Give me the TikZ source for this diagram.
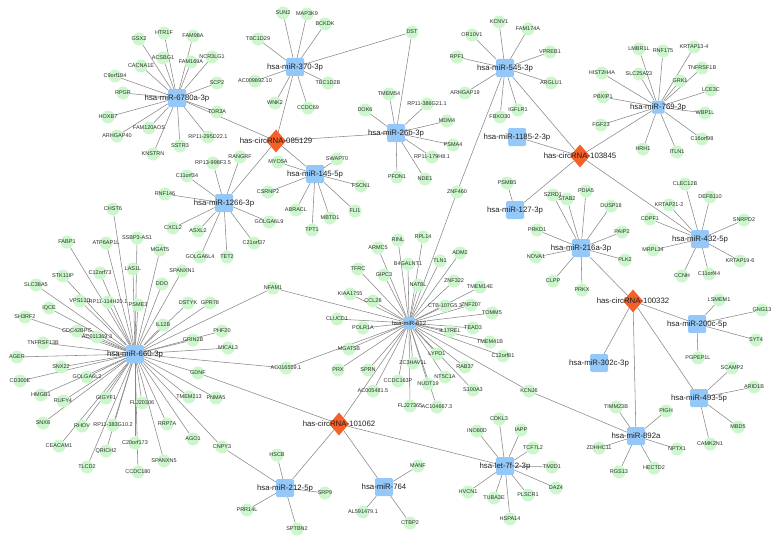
\documentclass[tikz,border=0pt]{standalone}
\usepackage{fontspec}
\setmainfont{Liberation Sans}
\usetikzlibrary{shapes.geometric}
\pgfdeclarelayer{bg}
\pgfsetlayers{bg,main}
\definecolor{gfill}{RGB}{204,247,204}
\definecolor{mfill}{RGB}{148,200,248}
\definecolor{cfill}{RGB}{245,95,40}
\definecolor{ecol}{RGB}{135,135,135}
\definecolor{gtextc}{RGB}{45,45,45}
\tikzset{
 gtext/.style={font=\fontsize{5.5}{6}\selectfont,text=gtextc,inner sep=0pt},
 mtext/.style={font=\fontsize{7.8}{9}\selectfont,text=black!88,inner sep=0pt},
 gene/.style={circle,fill=gfill,minimum size=13pt,inner sep=0pt,label={[gtext]center:#1}},
 mir/.style={rectangle,rounded corners=1.5pt,fill=mfill,minimum size=18pt,inner sep=0pt,label={[mtext]center:#1}},
 circ/.style={diamond,fill=cfill,minimum width=20pt,minimum height=23pt,inner sep=0pt,label={[mtext]center:#1}},
 edge/.style={draw=ecol,line width=0.55pt},
}
\newcommand\gn[3]{\node[gene={#3}] (#1) at (#2) {};}
\begin{document}
\begin{tikzpicture}[x=1pt,y=-1pt]
\useasboundingbox (0,0) rectangle (779,543);
% ---- circRNAs
\node[circ={has-circRNA-085129}] (c085) at (276,141) {};
\node[circ={has-circRNA-103845}] (c103) at (580,156) {};
\node[circ={has-circRNA-100332}] (c100) at (633,301) {};
\node[circ={has-circRNA-101062}] (c101) at (339,424) {};
% ---- miRNAs
\node[mir={hsa-miR-6780a-3p}] (m6780) at (177,98) {};
\node[mir={hsa-miR-370-3p}] (m370) at (295,67) {};
\node[mir={hsa-miR-26b-3p}] (m26b) at (396,133) {};
\node[mir={hsa-miR-545-3p}] (m545) at (505,68) {};
\node[mir={hsa-miR-1185-2-3p}] (m1185) at (517,137) {};
\node[mir={hsa-miR-769-3p},minimum size=13pt] (m769) at (658,107) {};
\node[mir={hsa-miR-127-3p}] (m127) at (515,210) {};
\node[mir={hsa-miR-216a-3p}] (m216) at (581,248) {};
\node[mir={hsa-miR-432-5p}] (m432) at (700,239) {};
\node[mir={hsa-miR-200c-5p}] (m200) at (697,324) {};
\node[mir={hsa-miR-302c-3p}] (m302) at (599,363) {};
\node[mir={hsa-miR-493-5p}] (m493) at (699,398) {};
\node[mir={hsa-miR-892a}] (m892) at (636,436) {};
\node[mir={hsa-miR-145-5p}] (m145) at (315,174) {};
\node[mir={hsa-miR-1266-3p}] (m1266) at (224,203) {};
\node[mir={hsa-miR-660-3p}] (m660) at (135,354) {};
\node[rectangle,rounded corners=1.5pt,fill=mfill,minimum size=12pt,inner sep=0pt,
  label={[mtext,font=\fontsize{6}{7}\selectfont]center:hsa-miR-612}] (m612) at (409,323) {};
\node[mir={hsa-miR-212-5p}] (m212) at (285,488) {};
\node[mir={hsa-miR-764}] (m764) at (384,487) {};
\node[mir={hsa-let-7f-2-3p}] (let7) at (505,466) {};
% ---- 6780a genes
\gn{GSX2}{139,39}{GSX2}
\gn{HTR1F}{164,33}{HTR1F}
\gn{FAM98A}{193,36}{FAM98A}
\gn{ACSBG1}{163,58}{ACSBG1}
\gn{CACNA1E}{141,66}{CACNA1E}
\gn{FAM169A}{191,62}{FAM169A}
\gn{C9orf184}{115,76}{C9orf184}
\gn{RPGR}{123,93}{RPGR}
\gn{HOXB7}{108,117}{HOXB7}
\gn{FAM120AOS}{149,128}{FAM120AOS}
\gn{ARHGAP40}{117,136}{ARHGAP40}
\gn{KNSTRN}{153,154}{KNSTRN}
\gn{SSTR3}{180,146}{SSTR3}
\gn{RPa}{208,137}{RP11-295D22.1}
\gn{TOR3A}{217,112}{TOR3A}
\gn{SCP2}{217,83}{SCP2}
\gn{NCR3LG1}{212,57}{NCR3LG1}
% ---- 370 genes
\gn{SUN2}{283,13}{SUN2}
\gn{MAP3K9}{307,14}{MAP3K9}
\gn{BCKDK}{325,24}{BCKDK}
\gn{TBC1D29}{258,39}{TBC1D29}
\gn{ACa}{255,81}{AC009892.10}
\gn{TBC1D2B}{328,83}{TBC1D2B}
\gn{WNK2}{275,103}{WNK2}
\gn{CCDC69}{308,108}{CCDC69}
\gn{DST}{412,32}{DST}
% ---- 26b genes
\gn{TMEM54}{389,94}{TMEM54}
\gn{DOK6}{365,110}{DOK6}
\gn{RPb}{427,104}{RP11-386G21.1}
\gn{MDM4}{447,121}{MDM4}
\gn{PSMA4}{453,145}{PSMA4}
\gn{RPc}{432,157}{RP11-179H8.1}
\gn{NDE1}{425,179}{NDE1}
\gn{PFDN1}{397,177}{PFDN1}
% ---- 545 genes
\gn{KCNV1}{499,22}{KCNV1}
\gn{OR10V1}{472,35}{OR10V1}
\gn{FAM174A}{528,29}{FAM174A}
\gn{VPREB1}{550,52}{VPREB1}
\gn{RPF1}{457,57}{RPF1}
\gn{ARGLU1}{551,83}{ARGLU1}
\gn{ARHGAP19}{465,93}{ARHGAP19}
\gn{FBXO30}{500,117}{FBXO30}
\gn{IGFLR1}{518,110}{IGFLR1}
\gn{ZNF460}{457,192}{ZNF460}
% ---- 769 genes
\gn{LMBR1L}{639,49}{LMBR1L}
\gn{RNF175}{663,51}{RNF175}
\gn{KRTAP13-4}{694,47}{KRTAP13-4}
\gn{HIST2H4A}{602,73}{HIST2H4A}
\gn{SLC25A23}{639,74}{SLC25A23}
\gn{GRK1}{680,81}{GRK1}
\gn{TNFRSF1B}{702,68}{TNFRSF1B}
\gn{LCE3C}{711,90}{LCE3C}
\gn{PBXIP1}{603,97}{PBXIP1}
\gn{WBP1L}{705,113}{WBP1L}
\gn{FGF23}{601,125}{FGF23}
\gn{C16orf98}{702,139}{C16orf98}
\gn{HRH1}{643,149}{HRH1}
\gn{ITLN1}{677,152}{ITLN1}
% ---- 127 / 216a genes
\gn{PSMB5}{507,183}{PSMB5}
\gn{SZRD1}{553,195}{SZRD1}
\gn{STAB2}{567,199}{STAB2}
\gn{PDIA5}{586,191}{PDIA5}
\gn{DUSP18}{611,206}{DUSP18}
\gn{PAIP2}{622,232}{PAIP2}
\gn{PLK2}{625,260}{PLK2}
\gn{PRKX}{582,290}{PRKX}
\gn{PRKD1}{537,230}{PRKD1}
\gn{NOVA1}{536,257}{NOVA1}
\gn{CLPP}{553,281}{CLPP}
% ---- 432 genes
\gn{CLEC12B}{685,184}{CLEC12B}
\gn{DEFB110}{710,197}{DEFB110}
\gn{KRTAP21-2}{669,205}{KRTAP21-2}
\gn{CDPF1}{650,219}{CDPF1}
\gn{SNRPD2}{744,220}{SNRPD2}
\gn{MRPL34}{653,250}{MRPL34}
\gn{KRTAP19-6}{740,261}{KRTAP19-6}
\gn{CCNH}{682,276}{CCNH}
\gn{C11orf44}{709,274}{C11orf44}
% ---- 200c / 493 / 892a genes
\gn{LSMEM1}{719,300}{LSMEM1}
\gn{GNG13}{762,310}{GNG13}
\gn{SYT4}{756,340}{SYT4}
\gn{PGPEP1L}{698,358}{PGPEP1L}
\gn{SCAMP2}{732,368}{SCAMP2}
\gn{ARID1B}{754,387}{ARID1B}
\gn{MBD5}{738,427}{MBD5}
\gn{CAMK2N1}{710,444}{CAMK2N1}
\gn{TIMM23B}{616,407}{TIMM23B}
\gn{PIGH}{666,411}{PIGH}
\gn{ZDHHC11}{599,448}{ZDHHC11}
\gn{NPTX1}{677,449}{NPTX1}
\gn{RGS13}{619,472}{RGS13}
\gn{HECTD2}{654,468}{HECTD2}
\gn{KCNJ6}{529,391}{KCNJ6}
% ---- 145 genes
\gn{MYO5A}{278,162}{MYO5A}
\gn{SWAP70}{337,159}{SWAP70}
\gn{FSCN1}{361,186}{FSCN1}
\gn{CSRNP2}{268,192}{CSRNP2}
\gn{ABRACL}{296,210}{ABRACL}
\gn{TPT1}{312,230}{TPT1}
\gn{MBTD1}{330,218}{MBTD1}
\gn{FLI1}{355,211}{FLI1}
% ---- 1266 genes
\gn{RANGRF}{240,157}{RANGRF}
\gn{RPd}{213,163}{RP13-998F3.5}
\gn{C11orf34}{187,176}{C11orf34}
\gn{RNF146}{165,194}{RNF146}
\gn{CXCL2}{173,228}{CXCL2}
\gn{ASXL2}{198,231}{ASXL2}
\gn{GOLGA6L4}{200,257}{GOLGA6L4}
\gn{TET2}{227,257}{TET2}
\gn{C21orf37}{254,243}{C21orf37}
\gn{GOLGA6L9}{269,222}{GOLGA6L9}
% ---- 660 genes
\gn{CHST6}{113,209}{CHST6}
\gn{FABP1}{67,242}{FABP1}
\gn{ATP6AP1L}{106,243}{ATP6AP1L}
\gn{SSBP3-AS1}{137,238}{SSBP3-AS1}
\gn{MGAT5}{160,250}{MGAT5}
\gn{STK11IP}{63,276}{STK11IP}
\gn{C12orf73}{100,273}{C12orf73}
\gn{LAS1L}{133,269}{LAS1L}
\gn{SPANXN1}{182,271}{SPANXN1}
\gn{SLC38A5}{36,285}{SLC38A5}
\gn{DDO}{162,284}{DDO}
\gn{VPS13D}{80,301}{VPS13D}
\gn{RPe}{108,302}{RP11-114H20.1}
\gn{PSME3}{138,305}{PSME3}
\gn{DSTYK}{188,303}{DSTYK}
\gn{IQCE}{49,308}{IQCE}
\gn{SH3RF2}{25,317}{SH3RF2}
\gn{IL12B}{163,325}{IL12B}
\gn{GPR78}{210,303}{GPR78}
\gn{CDC42BPG}{77,331}{CDC42BPG}
\gn{ACb}{97,337}{AC011369.3}
\gn{GRIN2B}{193,340}{GRIN2B}
\gn{TNFRSF13B}{43,343}{TNFRSF13B}
\gn{AGER}{17,357}{AGER}
\gn{SNX22}{61,367}{SNX22}
\gn{CD300E}{20,381}{CD300E}
\gn{GOLGA6L2}{87,377}{GOLGA6L2}
\gn{HMGB1}{41,395}{HMGB1}
\gn{RUFY4}{63,401}{RUFY4}
\gn{GIGYF1}{106,398}{GIGYF1}
\gn{FLJ20306}{142,403}{FLJ20306}
\gn{TMEM213}{189,397}{TMEM213}
\gn{SNX8}{43,423}{SNX8}
\gn{RHOV}{82,426}{RHOV}
\gn{RPf}{113,425}{RP11-383G10.2}
\gn{RRP7A}{167,424}{RRP7A}
\gn{AGO1}{193,439}{AGO1}
\gn{CEACAM1}{59,446}{CEACAM1}
\gn{C20orf173}{135,443}{C20orf173}
\gn{QRICH2}{106,451}{QRICH2}
\gn{SPANXN5}{164,461}{SPANXN5}
\gn{TLCD2}{87,467}{TLCD2}
\gn{CCDC180}{138,472}{CCDC180}
\gn{PHF20}{222,331}{PHF20}
\gn{MICAL3}{228,348}{MICAL3}
\gn{NFAM1}{273,288}{NFAM1}
\gn{ACc}{286,368}{AC016559.1}
\gn{GDNF}{198,373}{GDNF}
\gn{PNMA5}{216,398}{PNMA5}
\gn{CNPY3}{222,447}{CNPY3}
% ---- 612 genes
\gn{ARMC5}{378,248}{ARMC5}
\gn{RINL}{398,240}{RINL}
\gn{RPL14}{423,237}{RPL14}
\gn{ADM2}{460,253}{ADM2}
\gn{B4GALNT1}{408,264}{B4GALNT1}
\gn{TLN1}{440,261}{TLN1}
\gn{GIPC3}{384,275}{GIPC3}
\gn{TFRC}{358,269}{TFRC}
\gn{KIAA1755}{350,294}{KIAA1755}
\gn{CCL28}{373,301}{CCL28}
\gn{NAT8L}{418,285}{NAT8L}
\gn{ZNF322}{454,281}{ZNF322}
\gn{TMEM14E}{480,287}{TMEM14E}
\gn{CTB}{445,306}{CTB-107G5.3}
\gn{ZNF207}{471,305}{ZNF207}
\gn{TOMM5}{492,313}{TOMM5}
\gn{TEAD3}{473,328}{TEAD3}
\gn{IL17REL}{450,331}{IL17REL}
\gn{TMEM41B}{490,342}{TMEM41B}
\gn{C12orf81}{503,356}{C12orf81}
\gn{LYPD1}{437,354}{LYPD1}
\gn{CLUCD1}{337,319}{CLUCD1}
\gn{POLR1A}{363,328}{POLR1A}
\gn{MGAT5B}{349,349}{MGAT5B}
\gn{PRX}{338,370}{PRX}
\gn{SPRN}{368,370}{SPRN}
\gn{ACd}{373,391}{AC005481.5}
\gn{ZC3HAV1L}{413,363}{ZC3HAV1L}
\gn{CCDC163P}{398,381}{CCDC163P}
\gn{NUDT19}{428,384}{NUDT19}
\gn{FLJ27365}{410,406}{FLJ27365}
\gn{ACe}{437,407}{AC104667.3}
\gn{NT5C1A}{445,377}{NT5C1A}
\gn{RAB37}{465,367}{RAB37}
\gn{S100A3}{473,390}{S100A3}
% ---- 212 / 764 / let-7 genes
\gn{HSCB}{277,455}{HSCB}
\gn{SRP9}{325,493}{SRP9}
\gn{PRR14L}{247,510}{PRR14L}
\gn{SPTBN2}{297,529}{SPTBN2}
\gn{MANF}{418,466}{MANF}
\gn{ALa}{363,512}{AL591479.1}
\gn{CTBP2}{410,523}{CTBP2}
\gn{CDKL3}{499,419}{CDKL3}
\gn{INO80D}{477,431}{INO80D}
\gn{IAPP}{521,430}{IAPP}
\gn{TCF7L2}{533,448}{TCF7L2}
\gn{TM2D1}{552,467}{TM2D1}
\gn{DAZ4}{556,488}{DAZ4}
\gn{PLSCR1}{528,495}{PLSCR1}
\gn{TUBA3E}{494,498}{TUBA3E}
\gn{HVCN1}{468,492}{HVCN1}
\gn{HSPA14}{510,519}{HSPA14}
% ---- edges
\begin{pgfonlayer}{bg}
\foreach \t in {m370,m6780,m26b,m145,m1266} \draw[edge] (c085) -- (\t);
\foreach \t in {m545,m1185,m769,m127,m432} \draw[edge] (c103) -- (\t);
\foreach \t in {m216,m200,m302,m493,m892} \draw[edge] (c100) -- (\t);
\foreach \t in {m612,GDNF,m212,m764,let7} \draw[edge] (c101) -- (\t);
\foreach \t in {GSX2,HTR1F,FAM98A,ACSBG1,CACNA1E,FAM169A,C9orf184,RPGR,HOXB7,FAM120AOS,ARHGAP40,KNSTRN,SSTR3,RPa,TOR3A,SCP2,NCR3LG1} \draw[edge] (m6780) -- (\t);
\foreach \t in {SUN2,MAP3K9,BCKDK,TBC1D29,ACa,TBC1D2B,WNK2,CCDC69,DST} \draw[edge] (m370) -- (\t);
\foreach \t in {DST,TMEM54,DOK6,RPb,MDM4,PSMA4,RPc,NDE1,PFDN1} \draw[edge] (m26b) -- (\t);
\foreach \t in {KCNV1,OR10V1,FAM174A,VPREB1,RPF1,ARGLU1,ARHGAP19,FBXO30,IGFLR1,ZNF460} \draw[edge] (m545) -- (\t);
\foreach \t in {LMBR1L,RNF175,KRTAP13-4,HIST2H4A,SLC25A23,GRK1,TNFRSF1B,LCE3C,PBXIP1,WBP1L,FGF23,C16orf98,HRH1,ITLN1} \draw[edge] (m769) -- (\t);
\draw[edge] (m127) -- (PSMB5);
\foreach \t in {SZRD1,STAB2,PDIA5,DUSP18,PAIP2,PLK2,PRKX,PRKD1,NOVA1,CLPP} \draw[edge] (m216) -- (\t);
\foreach \t in {CLEC12B,DEFB110,KRTAP21-2,CDPF1,SNRPD2,MRPL34,KRTAP19-6,CCNH,C11orf44} \draw[edge] (m432) -- (\t);
\foreach \t in {LSMEM1,GNG13,SYT4,PGPEP1L} \draw[edge] (m200) -- (\t);
\foreach \t in {SCAMP2,ARID1B,MBD5,CAMK2N1} \draw[edge] (m493) -- (\t);
\foreach \t in {TIMM23B,PIGH,ZDHHC11,NPTX1,RGS13,HECTD2,KCNJ6} \draw[edge] (m892) -- (\t);
\foreach \t in {MYO5A,SWAP70,FSCN1,CSRNP2,ABRACL,TPT1,MBTD1,FLI1} \draw[edge] (m145) -- (\t);
\foreach \t in {RANGRF,RPd,C11orf34,RNF146,CXCL2,ASXL2,GOLGA6L4,TET2,C21orf37,GOLGA6L9} \draw[edge] (m1266) -- (\t);
\foreach \t in {CHST6,FABP1,ATP6AP1L,SSBP3-AS1,MGAT5,STK11IP,C12orf73,LAS1L,SPANXN1,SLC38A5,DDO,VPS13D,RPe,PSME3,DSTYK,IQCE,SH3RF2,IL12B,GPR78,CDC42BPG,ACb,GRIN2B,TNFRSF13B,AGER,SNX22,CD300E,GOLGA6L2,HMGB1,RUFY4,GIGYF1,FLJ20306,TMEM213,SNX8,RHOV,RPf,RRP7A,AGO1,CEACAM1,C20orf173,QRICH2,SPANXN5,TLCD2,CCDC180,PHF20,MICAL3,NFAM1,ACc,GDNF,PNMA5,CNPY3} \draw[edge] (m660) -- (\t);
\foreach \t in {ARMC5,RINL,RPL14,ADM2,B4GALNT1,TLN1,GIPC3,TFRC,KIAA1755,CCL28,NAT8L,ZNF322,TMEM14E,CTB,ZNF207,TOMM5,TEAD3,IL17REL,TMEM41B,C12orf81,LYPD1,CLUCD1,POLR1A,MGAT5B,PRX,SPRN,ACd,ZC3HAV1L,CCDC163P,NUDT19,FLJ27365,ACe,NT5C1A,RAB37,S100A3,KCNJ6,NFAM1,ACc,ZNF460} \draw[edge] (m612) -- (\t);
\foreach \t in {HSCB,SRP9,PRR14L,SPTBN2,CNPY3} \draw[edge] (m212) -- (\t);
\foreach \t in {MANF,ALa,CTBP2} \draw[edge] (m764) -- (\t);
\foreach \t in {CDKL3,INO80D,IAPP,TCF7L2,TM2D1,DAZ4,PLSCR1,TUBA3E,HVCN1,HSPA14} \draw[edge] (let7) -- (\t);
\end{pgfonlayer}
\end{tikzpicture}
\end{document}
